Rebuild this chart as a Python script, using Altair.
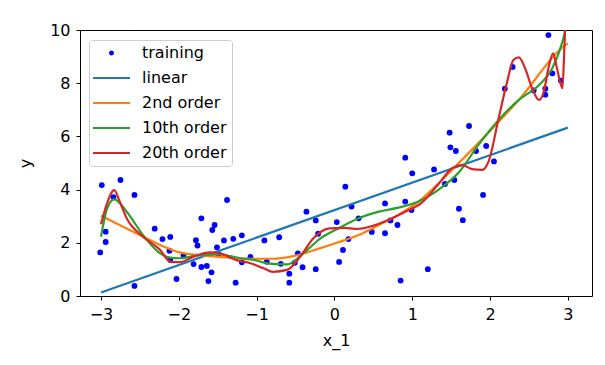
import altair as alt
import pandas as pd

# ---- data ----
train_x = [-3.01, -2.99, -2.94, -2.94, -2.84, -2.75, -2.57, -2.57, -2.31, -2.21,
           -2.11, -2.12, -2.11, -2.03, -1.94, -1.81, -1.78, -1.76, -1.71, -1.71,
           -1.64, -1.62, -1.58, -1.57, -1.54, -1.51, -1.49, -1.42, -1.38, -1.30,
           -1.27, -1.19, -1.19, -1.08,
           -0.90, -0.87, -0.71, -0.69, -0.58, -0.58, -0.51, -0.47, -0.41, -0.36,
           -0.24, -0.24, -0.21, 0.03, 0.06, 0.11, 0.14, 0.18, 0.22, 0.31,
           0.48, 0.65, 0.65, 0.72, 0.81, 0.85, 0.91, 0.99, 1.00, 0.91,
           1.20, 1.28, 1.42,
           1.48, 1.49, 1.56, 1.54, 1.60, 1.65, 1.73, 1.82, 1.91, 1.95,
           2.05, 2.19, 2.29, 2.56, 2.71, 2.71, 2.75, 2.80, 2.91]
train_y = [1.64, 4.17, 2.42, 2.03, 3.72, 4.36, 3.80, 0.38, 2.53, 2.14,
           2.22, 1.70, 1.35, 0.64, 1.52, 1.20, 2.10, 1.90, 2.92, 1.09,
           1.13, 0.56, 0.89, 2.48, 2.67, 1.83, 1.58, 2.09, 3.61, 2.15,
           0.50, 2.28, 1.27, 1.47,
           2.09, 1.29, 2.21, 1.21, 0.84, 0.50, 1.25, 1.60, 1.08, 3.17,
           2.84, 1.01, 2.34, 2.78, 1.28, 1.73, 4.11, 2.14, 3.36, 2.92,
           2.41, 3.48, 2.36, 2.84, 2.67, 0.58, 3.55, 3.23, 4.61, 5.20,
           1.01, 4.76, 4.21,
           6.14, 5.59, 5.45, 4.36, 3.28, 2.85, 6.39, 5.45, 3.80, 5.64,
           5.06, 7.79, 8.61, 7.73, 7.79, 7.57, 9.81, 8.37, 8.10]

linear_x = [-3.0, 3.0]
linear_y = [0.13, 6.33]

quad_x = [-3.0, -2.67, -2.46, -2.24, -1.99, -1.73, -1.39, -1.04, -0.79, -0.53,
          -0.18, 0.05, 0.31, 0.57, 0.82, 1.08, 1.34, 1.51, 1.94, 2.37, 2.97, 3.0]
quad_y = [3.02, 2.54, 2.23, 1.92, 1.64, 1.54, 1.45, 1.40, 1.40, 1.50,
          1.80, 2.02, 2.29, 2.67, 3.05, 3.55, 4.24, 4.74, 6.02, 7.37, 9.44, 9.50]

deg10_x = [-3.0, -2.92, -2.83, -2.67, -2.46, -2.24, -2.11, -1.99, -1.73, -1.47,
           -1.21, -1.04, -0.85, -0.61, -0.40, -0.18, 0.05, 0.31, 0.57, 0.82,
           1.08, 1.34, 1.60, 1.85, 2.11, 2.37, 2.63, 2.80, 2.93, 3.0]
deg10_y = [2.23, 3.30, 3.63, 3.17, 2.29, 1.60, 1.44, 1.42, 1.54, 1.56,
           1.42, 1.36, 1.22, 1.19, 1.60, 2.17, 2.54, 2.92, 3.17, 3.32,
           3.55, 4.00, 4.65, 5.68, 6.62, 7.37, 7.93, 8.56, 9.56, 10.40]

deg20_x = [-3.0, -2.93, -2.83, -2.76, -2.67, -2.46, -2.24, -2.11, -1.99, -1.81,
           -1.60, -1.47, -1.26, -1.08, -0.91, -0.79, -0.61, -0.44, -0.27, -0.06,
           0.12, 0.30, 0.47, 0.69, 0.91, 1.12, 1.34, 1.51, 1.64, 1.77,
           1.90, 1.98, 2.11, 2.22, 2.30, 2.37, 2.45, 2.54, 2.63, 2.69,
           2.75, 2.81, 2.86, 2.93, 2.95, 2.97, 3.0]
deg20_y = [2.70, 3.42, 3.98, 3.55, 2.92, 2.23, 1.73, 1.29, 1.27, 1.48,
           1.64, 1.60, 1.35, 1.23, 1.04, 0.91, 0.98, 1.48, 2.17, 2.54,
           2.56, 2.52, 2.62, 2.86, 3.17, 3.50, 4.22, 4.80, 4.92, 4.77,
           4.74, 5.05, 6.68, 8.06, 8.87, 8.97, 8.56, 7.81, 7.37, 7.68,
           8.56, 9.12, 8.56, 7.81, 8.94, 10.50, 11.50]

series_names = ["training", "linear", "2nd order", "10th order", "20th order"]
series_colors = ["#0000ff", "#1f77b4", "#ff7f0e", "#2ca02c", "#d62728"]
x_ticks = [-3, -2, -1, 0, 1, 2, 3]
y_ticks = [0, 2, 4, 6, 8, 10]

# ---- frames ----
df_train = pd.DataFrame({"x": train_x, "y": train_y, "series": "training"})


def line_frame(xs, ys, name):
    return pd.DataFrame({"x": xs, "y": ys, "series": name, "order": list(range(len(xs)))})


line_frames = [
    line_frame(linear_x, linear_y, "linear"),
    line_frame(quad_x, quad_y, "2nd order"),
    line_frame(deg10_x, deg10_y, "10th order"),
    line_frame(deg20_x, deg20_y, "20th order"),
]

FONT = "DejaVu Sans"

color_scale = alt.Scale(domain=series_names, range=series_colors)
x_enc = alt.X("x:Q", scale=alt.Scale(domain=[-3.27, 3.31], nice=False, zero=False),
              axis=alt.Axis(values=x_ticks, title="x_1"))
y_enc = alt.Y("y:Q", scale=alt.Scale(domain=[0, 10], nice=False, zero=False),
              axis=alt.Axis(values=y_ticks, title="y"))

# legend symbol glyphs (unit square scaled by sqrt(size)/2)
bar_path = "M-1.8,-0.22L5.6,-0.22L5.6,0.22L-1.8,0.22Z"
dot_path = "M1.4,0A0.5,0.5,0,1,1,2.4,0A0.5,0.5,0,1,1,1.4,0Z"
legend_shapes = [dot_path, bar_path, bar_path, bar_path, bar_path]


def make_legend():
    return alt.Legend(
        title=None, orient="none", legendX=9, legendY=10,
        symbolSize=100, symbolOpacity=1, symbolStrokeWidth=0,
        labelFont=FONT, labelFontSize=16, labelColor="black",
        labelOffset=32, rowPadding=9, padding=5, cornerRadius=3,
        fillColor="rgba(255,255,255,0.8)", strokeColor="#cccccc",
    )


legend_carrier = alt.Chart(df_train).mark_point(filled=True, opacity=0, size=100).encode(
    x=x_enc, y=y_enc,
    color=alt.Color("series:N", scale=color_scale, legend=make_legend()),
    shape=alt.Shape("series:N", scale=alt.Scale(domain=series_names, range=legend_shapes),
                    legend=make_legend()),
)

points = alt.Chart(df_train).mark_circle(size=34, opacity=1, color=series_colors[0]).encode(
    x=x_enc, y=y_enc,
)

line_layers = [
    alt.Chart(f).mark_line(clip=True, strokeWidth=2.2, interpolate="monotone",
                           color=c).encode(
        x=x_enc, y=y_enc,
        order="order:Q",
    )
    for f, c in zip(line_frames, series_colors[1:])
]

chart = alt.layer(legend_carrier, points, *line_layers).properties(
    width=512, height=266,
    autosize=alt.AutoSizeParams(type="none"),
    padding={"left": 80, "top": 30, "right": 13, "bottom": 69},
    background="white",
).configure_view(
    stroke="black", strokeWidth=1,
).configure_axis(
    domain=False, grid=False,
    ticks=True, tickColor="black", tickSize=4, tickWidth=1,
    labelFont=FONT, labelFontSize=16, labelColor="black", labelPadding=6,
    titleFont=FONT, titleFontSize=16, titleFontWeight="normal", titleColor="black",
).configure_axisX(
    titlePadding=10,
).configure_axisY(
    titlePadding=16,
)

chart.save("out.html", embed_options={"renderer": "svg", "actions": False})
